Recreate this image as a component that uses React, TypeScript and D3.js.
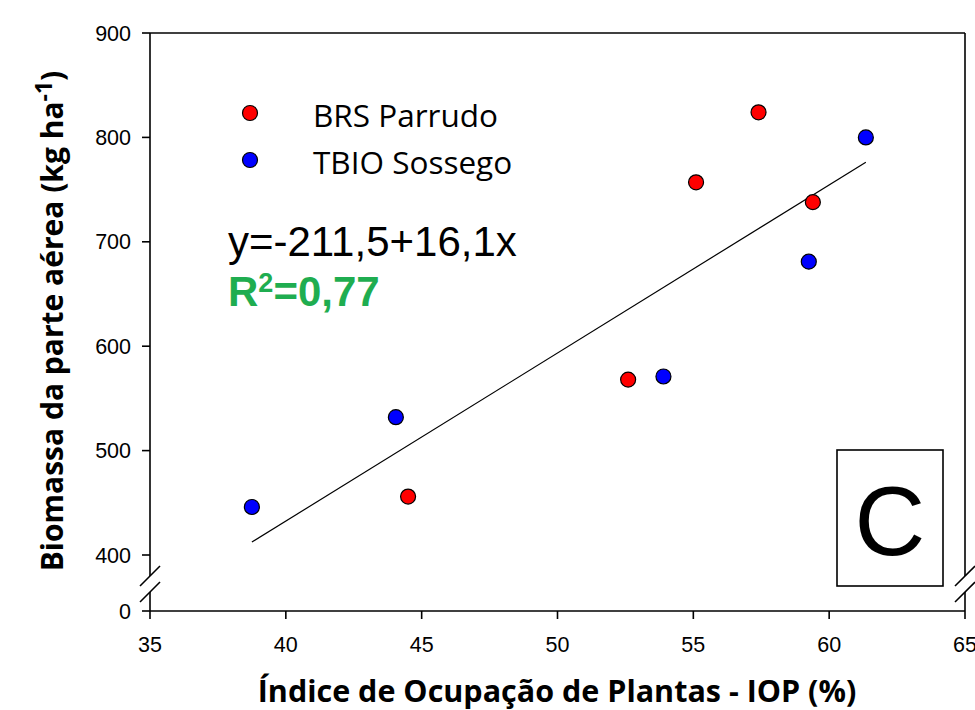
import React from "react";
import * as d3 from "d3";

const brsX = [44.5, 52.6, 55.1, 57.4, 59.4];
const brsY = [456, 568, 757, 824, 738];
const tbioX = [38.75, 44.05, 53.9, 59.25, 61.35];
const tbioY = [446, 532, 571, 681, 800];
const xTicks = [35, 40, 45, 50, 55, 60, 65];
const yTicks = [400, 500, 600, 700, 800, 900];
const yBreakTick = 0;
const intercept = -211.5;
const slope = 16.1;
const series = ["BRS Parrudo", "TBIO Sossego"];
const colors = ["#ff0000", "#0000ff"];

const W = 975, H = 710;
const left = 150, right = 965, top = 33, bottom = 611;

export default function App() {
  const x = d3.scaleLinear().domain([35, 65]).range([left, right]);
  const yMain = d3.scaleLinear().domain([400, 900]).range([555, top]);
  const y = (v: number) => (v === 0 ? bottom : yMain(v));
  const allX = [...brsX, ...tbioX];
  const x0 = d3.min(allX)!, x1 = d3.max(allX)!;
  const line = d3.line<number>().x((d) => x(d)).y((d) => yMain(intercept + slope * d));
  const breakY1 = 576, breakY2 = 592;
  const slash = (cx: number, cy: number) => `M${cx - 10},${cy + 10}L${cx + 10},${cy - 10}`;
  return (
    <svg width={W} height={H} style={{ position: "absolute", left: 0, top: 0, background: "#fff" }}>
      <g stroke="#000" strokeWidth={1.6} fill="none">
        <line x1={left} y1={top} x2={right} y2={top} />
        <line x1={left} y1={top} x2={left} y2={breakY1} />
        <line x1={left} y1={breakY2} x2={left} y2={bottom} />
        <line x1={right} y1={top} x2={right} y2={breakY1} />
        <line x1={right} y1={breakY2} x2={right} y2={bottom} />
        <line x1={left} y1={bottom} x2={right} y2={bottom} />
        <path d={slash(left, breakY1)} />
        <path d={slash(left, breakY2)} />
        <path d={slash(right, breakY1)} />
        <path d={slash(right, breakY2)} />
      </g>
      <g fontFamily="Liberation Sans, Arial, sans-serif" fontSize={21.5} fill="#000">
        {[...yTicks, yBreakTick].map((t) => (
          <g key={t}>
            <line x1={left - 8} x2={left} y1={y(t)} y2={y(t)} stroke="#000" strokeWidth={1.6} />
            <text x={131} y={y(t)} dy="0.35em" textAnchor="end">{t}</text>
          </g>
        ))}
        {xTicks.map((t) => (
          <g key={t}>
            <line x1={x(t)} x2={x(t)} y1={bottom} y2={bottom + 8} stroke="#000" strokeWidth={1.6} />
            <text x={x(t)} y={652} textAnchor="middle">{t}</text>
          </g>
        ))}
      </g>
      <path d={line([x0, x1]) || ""} stroke="#000" strokeWidth={1.2} fill="none" />
      {brsX.map((v, i) => (
        <circle key={"b" + i} cx={x(v)} cy={yMain(brsY[i])} r={7.5} fill={colors[0]} stroke="#000" strokeWidth={1.2} />
      ))}
      {tbioX.map((v, i) => (
        <circle key={"t" + i} cx={x(v)} cy={yMain(tbioY[i])} r={7.5} fill={colors[1]} stroke="#000" strokeWidth={1.2} />
      ))}
      {series.map((s, i) => (
        <g key={s}>
          <circle cx={250} cy={113 + i * 47} r={7.5} fill={colors[i]} stroke="#000" strokeWidth={1.2} />
          <text x={313} y={127 + i * 47} fontFamily="Open Sans, sans-serif" fontSize={31.5} fill="#000">{s}</text>
        </g>
      ))}
      <text x={228} y={256} fontFamily="Liberation Sans, Arial, sans-serif" fontSize={42} fill="#000">
        y=-211,5+16,1x
      </text>
      <text x={228} y={306} fontFamily="Liberation Sans, Arial, sans-serif" fontSize={42} fontWeight="bold" fill="#1fad50">
        R<tspan dy={-14} fontSize={27}>2</tspan><tspan dy={14}>=0,77</tspan>
      </text>
      <rect x={837} y={450} width={106} height={136} fill="#fff" stroke="#000" strokeWidth={1.6} />
      <text x={890} y={555} textAnchor="middle" fontFamily="Liberation Sans, Arial, sans-serif" fontSize={98} fill="#000">C</text>
      <text x={557} y={702} textAnchor="middle" fontFamily="Open Sans, sans-serif" fontWeight="bold" fontSize={30.5} fill="#000">
        Índice de Ocupação de Plantas - IOP (%)
      </text>
      <text transform="translate(63,321) rotate(-90)" textAnchor="middle" fontFamily="Open Sans, sans-serif" fontWeight="bold" fontSize={30} fill="#000">
        Biomassa da parte aérea (kg ha<tspan dy={-11} fontSize={23}>-1</tspan><tspan dy={11}>)</tspan>
      </text>
    </svg>
  );
}
